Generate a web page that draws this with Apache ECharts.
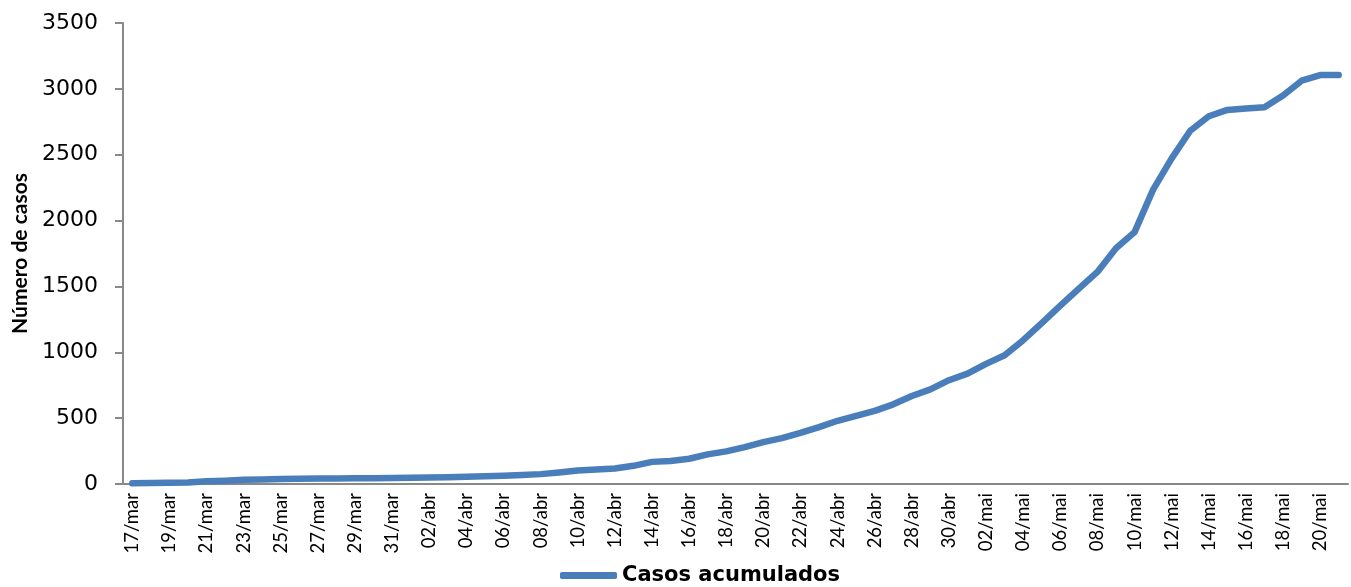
<!DOCTYPE html>
<html>
<head>
<meta charset="utf-8">
<script src="https://cdn.jsdelivr.net/npm/echarts@6/dist/echarts.min.js"></script>
<style>html,body{margin:0;padding:0;background:#fff}#c{width:1351px;height:587px}</style>
</head>
<body>
<div id="c"></div>
<script>
const categories = [
  '17/mar','18/mar','19/mar','20/mar','21/mar','22/mar','23/mar','24/mar','25/mar','26/mar','27/mar','28/mar','29/mar','30/mar','31/mar',
  '01/abr','02/abr','03/abr','04/abr','05/abr','06/abr','07/abr','08/abr','09/abr','10/abr','11/abr','12/abr','13/abr','14/abr','15/abr',
  '16/abr','17/abr','18/abr','19/abr','20/abr','21/abr','22/abr','23/abr','24/abr','25/abr','26/abr','27/abr','28/abr','29/abr','30/abr',
  '01/mai','02/mai','03/mai','04/mai','05/mai','06/mai','07/mai','08/mai','09/mai','10/mai','11/mai','12/mai','13/mai','14/mai','15/mai',
  '16/mai','17/mai','18/mai','19/mai','20/mai','21/mai'
];
const casosAcumulados = [
  5, 8, 10, 12, 20, 25, 32, 35, 38, 40, 42, 42, 43, 44, 46,
  48, 50, 52, 55, 58, 62, 68, 75, 88, 103, 110, 117, 138, 168, 175,
  192, 225, 248, 280, 318, 348, 388, 432, 480, 517, 555, 605, 668, 718, 788,
  838, 912, 977, 1092, 1222, 1355, 1484, 1610, 1790, 1912, 2235, 2472, 2682, 2792, 2840,
  2850, 2860, 2950, 3062, 3105, 3105
];
const yTicks = { min: 0, max: 3500, interval: 500 };
const seriesName = 'Casos acumulados';
const yName = 'Número de casos';

const chart = echarts.init(document.getElementById('c'), null, { renderer: 'canvas' });
chart.setOption({
  animation: false,
  grid: { left: 123, right: 3, top: 23, bottom: 103, containLabel: false, outerBoundsMode: 'none' },
  legend: {
    data: [seriesName],
    left: 555,
    top: 560,
    icon: 'roundRect',
    itemWidth: 57,
    itemHeight: 7,
    textStyle: { fontFamily: 'DejaVu Sans', fontWeight: 'bold', fontSize: 21, color: '#000' }
  },
  xAxis: {
    type: 'category',
    data: categories,
    boundaryGap: true,
    axisLine: { lineStyle: { color: '#898989', width: 2 } },
    axisTick: { interval: 1, length: 6, lineStyle: { color: '#898989', width: 2 } },
    axisLabel: { interval: 1, rotate: 90, margin: 9, fontFamily: 'Lato', fontSize: 18.5, color: '#000' },
    splitLine: { show: false }
  },
  yAxis: {
    type: 'value',
    min: yTicks.min,
    max: yTicks.max,
    interval: yTicks.interval,
    name: yName,
    nameLocation: 'middle',
    nameGap: 91,
    nameTextStyle: { fontFamily: 'Lato', fontWeight: 'bold', fontSize: 21, color: '#000' },
    axisLine: { show: true, lineStyle: { color: '#898989', width: 2 } },
    axisTick: { show: true, length: 8, lineStyle: { color: '#898989', width: 2 } },
    axisLabel: { margin: 25, fontFamily: 'DejaVu Sans', fontSize: 22, color: '#000', formatter: function (v) { return String(v); } },
    splitLine: { show: false }
  },
  series: [{
    name: seriesName,
    type: 'line',
    data: casosAcumulados,
    symbol: 'none',
    smooth: false,
    itemStyle: { color: '#4a7ebb' },
    lineStyle: { color: '#4a7ebb', width: 6.5, cap: 'round', join: 'round' }
  }]
});
</script>
</body>
</html>
